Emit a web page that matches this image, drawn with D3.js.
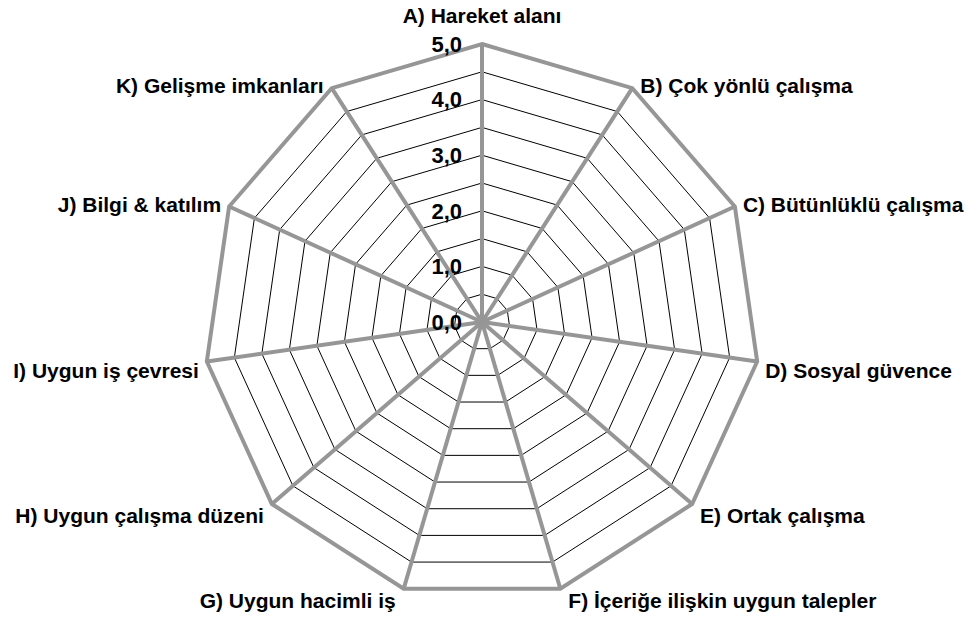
<!DOCTYPE html>
<html lang="tr">
<head>
    <meta charset="UTF-8">
    <title>Radar</title>
    <script src="https://cdn.jsdelivr.net/npm/d3@7"></script>
    <style>
        body { margin: 0; background: #fff; }
        text { font-family: "Liberation Sans Narrow", "Arial Narrow", "Liberation Sans", Arial, sans-serif; font-weight: bold; font-size: 21px; fill: #000; }
        text.tick { font-size: 22px; }
    </style>
</head>
<body>
<script>
    const categories = ['A) Hareket alanı', 'B) Çok yönlü çalışma', 'C) Bütünlüklü çalışma', 'D) Sosyal güvence',
        'E) Ortak çalışma', 'F) İçeriğe ilişkin uygun talepler', 'G) Uygun hacimli iş', 'H) Uygun çalışma düzeni',
        'I) Uygun iş çevresi', 'J) Bilgi & katılım', 'K) Gelişme imkanları']
    const values = [5, 5, 5, 5, 5, 5, 5, 5, 5, 5, 5]
    const gridSteps = [0.5, 1, 1.5, 2, 2.5, 3, 3.5, 4, 4.5, 5]
    const tickLabels = ['0,0', '1,0', '2,0', '3,0', '4,0', '5,0']
    const tickValues = [0, 1, 2, 3, 4, 5]

    const [width, height] = [967, 619]
    const [cx, cy, radius] = [482, 322, 278]
    const svg = d3.select('body').append('svg').attr('width', width).attr('height', height)
    const g = svg.append('g').attr('transform', `translate(${cx}, ${cy})`)

    const r = d3.scaleLinear().domain([0, 5]).range([0, radius])
    const angle = d3.scaleLinear().domain([0, categories.length]).range([0, 2 * Math.PI])
    const point = (i, v) => [r(v) * Math.sin(angle(i)), -r(v) * Math.cos(angle(i))]

    // grid rings
    g.selectAll('polygon.grid').data(gridSteps).enter().append('polygon').classed('grid', true)
        .attr('points', d => categories.map((c, i) => point(i, d).join(',')).join(' '))
        .attr('fill', 'none')
        .attr('stroke', '#000')
        .attr('stroke-width', 1)

    // spokes
    g.selectAll('line.spoke').data(categories).enter().append('line').classed('spoke', true)
        .attr('x1', 0).attr('y1', 0)
        .attr('x2', (d, i) => point(i, 5)[0])
        .attr('y2', (d, i) => point(i, 5)[1])
        .attr('stroke', '#969696')
        .attr('stroke-width', 4)

    // series
    const line = d3.lineRadial().angle((d, i) => angle(i)).radius(d => r(d)).curve(d3.curveLinearClosed)
    g.append('path').datum(values)
        .attr('d', line)
        .attr('fill', 'none')
        .attr('stroke', '#969696')
        .attr('stroke-width', 4)
        .attr('stroke-linejoin', 'miter')

    // tick labels
    g.selectAll('text.tick').data(tickValues).enter().append('text').classed('tick', true)
        .attr('x', -20)
        .attr('y', d => -r(d))
        .attr('dy', '0.35em')
        .attr('text-anchor', 'end')
        .text((d, i) => tickLabels[i])

    // category labels
    g.selectAll('text.cat').data(categories).enter().append('text').classed('cat', true)
        .each(function (d, i) {
            const [x, y] = point(i, 5)
            const s = Math.sin(angle(i)), c = Math.cos(angle(i))
            const el = d3.select(this)
            if (Math.abs(s) < 0.01) {
                el.attr('x', x).attr('y', y - 28).attr('text-anchor', 'middle')
            } else {
                const dx = s > 0 ? 8 : -8
                const dy = c < -0.5 ? 12 : (c < 0 ? 9 : -2)
                el.attr('x', x + dx).attr('y', y + dy).attr('text-anchor', s > 0 ? 'start' : 'end')
            }
            el.attr('dy', '0.35em').text(d)
        })
</script>
</body>
</html>
